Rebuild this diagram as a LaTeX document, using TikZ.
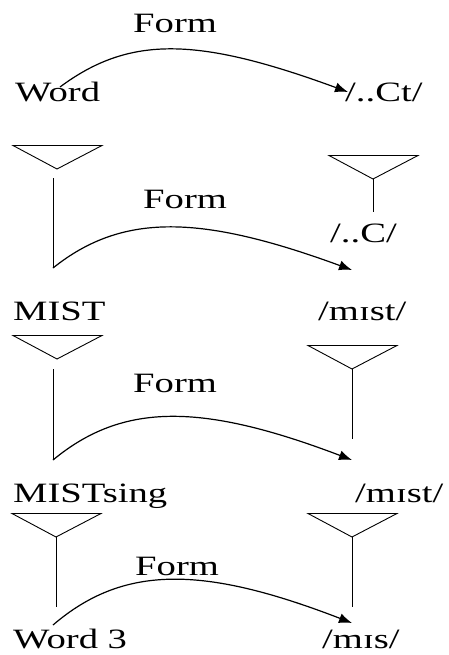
\documentclass[tikz,border=0pt]{standalone}
\usepackage{fontspec}
\setmainfont{Liberation Serif}[FakeStretch=1.38]
\usetikzlibrary{arrows.meta}
\begin{document}
\begin{tikzpicture}[x=1pt,y=-1pt,
  lbl/.style={anchor=base west, inner sep=0pt, font=\fontsize{28}{30}\selectfont},
  formarc/.style={line width=1.2pt, -{Latex[length=13pt,width=10pt]}},
  stem/.style={line width=1pt},
  pics/funnel/.style={code={
    \draw[line width=0.9pt] (-44,-23.5) -- (45,-23.5) -- (0,0) -- cycle;
    \coordinate (-apex) at (0,0);
  }}
]
\useasboundingbox (0,0) rectangle (449,655);

% labels
\node[lbl] (word1)    at (15,102)  {Word};
\node[lbl] (ct)       at (345,102) {/..Ct/};
\node[lbl] (form1)    at (133,33)  {Form};
\node[lbl] (form2)    at (143,208) {Form};
\node[lbl] (c)        at (330,242) {/..C/};
\node[lbl] (mist)     at (13,320)  {MIST};
\node[lbl] (mistp1)   at (318,320) {/mɪst/};
\node[lbl] (form3)    at (133,392) {Form};
\node[lbl] (mistsing) at (13,502)  {MISTsing};
\node[lbl] (mistp2)   at (355,502) {/mɪst/};
\node[lbl] (form4)    at (135,575) {Form};
\node[lbl] (word3)    at (13,648)  {Word 3};
\node[lbl] (misp)     at (322,648) {/mɪs/};

% triangles
\pic (fa) at (57,169)  {funnel};
\pic (fb) at (373,179) {funnel};
\pic (fc) at (57,359)  {funnel};
\pic (fd) at (352,369) {funnel};
\pic (fe) at (56,537)  {funnel};
\pic (ff) at (352,537) {funnel};

% stems
\coordinate (sa-top) at (53,178);
\coordinate (sa-bot) at (53,268);
\coordinate (sb-bot) at (373,212);
\coordinate (sc-top) at (53,369);
\coordinate (sc-bot) at (53,460);
\coordinate (sd-bot) at (352,439);
\coordinate (se-bot) at (56,607);
\coordinate (sf-bot) at (352,607);
\draw[stem] (sa-top) -- (sa-bot);
\draw[stem] (fb-apex) -- (sb-bot);
\draw[stem] (sc-top) -- (sc-bot);
\draw[stem] (fd-apex) -- (sd-bot);
\draw[stem] (fe-apex) -- (se-bot);
\draw[stem] (ff-apex) -- (sf-bot);

% Form arcs
\coordinate (a1s) at (60,87);
\coordinate (a1e) at (348,92);
\coordinate (a2e) at (352,270);
\coordinate (a3e) at (352,460);
\coordinate (a4s) at (53,625);
\coordinate (a4e) at (352,623);
\draw[formarc] (a1s) .. controls +(70,-52) and +(-150,-55) .. (a1e);
\draw[formarc] (sa-bot) .. controls +(70,-56) and +(-150,-55) .. (a2e);
\draw[formarc] (sc-bot) .. controls +(70,-58) and +(-150,-57) .. (a3e);
\draw[formarc] (a4s) .. controls +(70,-60) and +(-150,-58) .. (a4e);
\end{tikzpicture}
\end{document}
